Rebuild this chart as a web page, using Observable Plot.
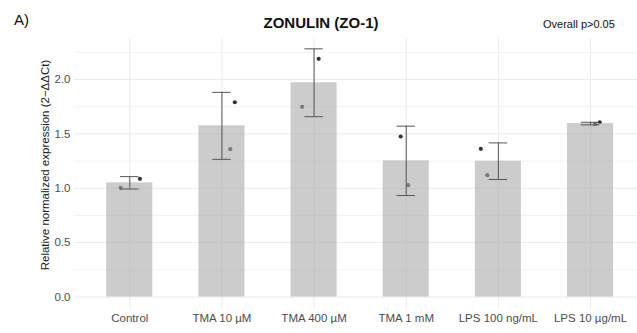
<!DOCTYPE html>
<html>
<head>
<meta charset="utf-8">
<script src="https://cdn.jsdelivr.net/npm/d3@7"></script>
<script src="https://cdn.jsdelivr.net/npm/@observablehq/plot@0.6"></script>
<style>
  body { margin: 0; background: #fff; }
  #wrap { position: relative; width: 637px; height: 333px; font-family: "Liberation Sans", Arial, sans-serif; }
  .lab { position: absolute; white-space: nowrap; line-height: 1; }
  #chart svg { display: block; }
</style>
</head>
<body>
<div id="wrap">
  <div id="chart"></div>
  <div class="lab" style="left:14px;top:12px;font-size:15px;color:#111">A)</div>
  <div class="lab" style="left:0;width:642px;text-align:center;top:15px;font-size:15px;font-weight:bold;color:#111">ZONULIN (ZO-1)</div>
  <div class="lab" style="left:543px;top:19px;font-size:11px;color:#111">Overall p&gt;0.05</div>
  <div class="lab" style="left:46px;top:165px;font-size:11.5px;color:#1a1a1a;transform:translate(-50%,-50%) rotate(-90deg)">Relative normalized expression (2−ΔΔCt)</div>
</div>
<script>
// Treatment groups, in plotting order
const groups = ["Control", "TMA 10 µM", "TMA 400 µM", "TMA 1 mM", "LPS 100 ng/mL", "LPS 10 µg/mL"];
// Mean relative expression per group
const means = [1.05, 1.574, 1.97, 1.252, 1.249, 1.595];
// Error-bar half-widths per group
const errs = [0.057, 0.308, 0.312, 0.319, 0.168, 0.012];

// Individual replicates: group index, value and horizontal jitter (in group units)
const repGroup = [0, 0, 1, 1, 2, 2, 3, 3, 4, 4, 5, 5];
const repValue = [1.087, 1.004, 1.791, 1.359, 2.19, 1.749, 1.476, 1.028, 1.363, 1.12, 1.589, 1.607];
const repJitter = [0.11, -0.1, 0.14, 0.09, 0.05, -0.13, -0.06, 0.02, -0.19, -0.12, 0.05, 0.1];

// Axis ticks
const yTicks = [0, 0.5, 1, 1.5, 2];
const yMinor = [0.25, 0.75, 1.25, 1.75, 2.25];

const summary = groups.map((g, i) => ({
  i, group: g, mean: means[i], lo: means[i] - errs[i], hi: means[i] + errs[i]
}));
const reps = repValue.map((v, k) => ({ x: repGroup[k] + repJitter[k], value: v }));

const barHalf = 0.25;
const capHalf = 0.1;
const gridColor = "#ebebeb";

const chart = Plot.plot({
  width: 637,
  height: 333,
  marginLeft: 74,
  marginRight: 0,
  marginTop: 37.7,
  marginBottom: 24.1,
  style: { fontFamily: "'Liberation Sans', Arial, sans-serif", fontSize: "11.5px", color: "#4d4d4d", background: "transparent" },
  x: { type: "linear", domain: [-0.6, 5.51] },
  y: { domain: [-0.114, 2.38] },
  marks: [
    // panel grid
    Plot.ruleY(yMinor, { stroke: gridColor, strokeWidth: 0.6 }),
    Plot.ruleY(yTicks, { stroke: gridColor, strokeWidth: 1 }),
    Plot.ruleX(summary, { x: "i", stroke: gridColor, strokeWidth: 1 }),
    // replicate points, drawn beneath the translucent bars
    Plot.dot(reps, { x: "x", y: "value", r: 2.1, fill: "#333", stroke: "none" }),
    // mean bars
    Plot.rectY(summary, {
      x1: d => d.i - barHalf, x2: d => d.i + barHalf, y1: 0, y2: "mean",
      fill: "#aaaaaa", fillOpacity: 0.6
    }),
    // error bars
    Plot.ruleX(summary, { x: "i", y1: "lo", y2: "hi", stroke: "#555", strokeWidth: 1 }),
    Plot.ruleY(summary, { y: "lo", x1: d => d.i - capHalf, x2: d => d.i + capHalf, stroke: "#555", strokeWidth: 1 }),
    Plot.ruleY(summary, { y: "hi", x1: d => d.i - capHalf, x2: d => d.i + capHalf, stroke: "#555", strokeWidth: 1 }),
    // axes
    Plot.axisX({
      ticks: summary.map(d => d.i), tickFormat: i => groups[i],
      tickSize: 0, tickPadding: 4.5, label: null, fill: "#4d4d4d"
    }),
    Plot.axisY({
      ticks: yTicks, tickFormat: d3.format(".1f"),
      tickSize: 0, tickPadding: 4, label: null, fill: "#4d4d4d"
    })
  ]
});
document.getElementById("chart").appendChild(chart);
</script>
</body>
</html>
